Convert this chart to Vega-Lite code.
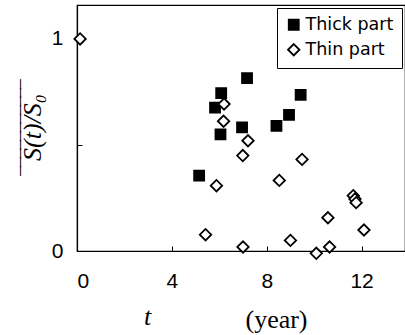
{
  "$schema": "https://vega.github.io/schema/vega-lite/v6.json",
  "autosize": {"type": "none"},
  "padding": {"left": 77, "top": 5, "right": 0, "bottom": 84},
  "width": 328,
  "height": 246,
  "background": "white",
  "config": {
    "view": {"stroke": "black", "strokeWidth": 1.2},
    "axis": {"grid": false, "domainColor": "black", "tickColor": "black", "labelColor": "black", "titleColor": "black"}
  },
  "title": {
    "text": "t",
    "orient": "bottom",
    "anchor": "start",
    "frame": "group",
    "dx": 67,
    "dy": -28,
    "offset": 0,
    "font": "Liberation Serif",
    "fontStyle": "italic",
    "fontWeight": "normal",
    "fontSize": 26,
    "color": "black"
  },
  "data": {
    "values": [
      {"t": 5.15, "s": 0.355, "series": "Thick part"},
      {"t": 5.82, "s": 0.676, "series": "Thick part"},
      {"t": 6.08, "s": 0.744, "series": "Thick part"},
      {"t": 6.05, "s": 0.55, "series": "Thick part"},
      {"t": 6.96, "s": 0.583, "series": "Thick part"},
      {"t": 7.17, "s": 0.815, "series": "Thick part"},
      {"t": 8.41, "s": 0.59, "series": "Thick part"},
      {"t": 8.94, "s": 0.642, "series": "Thick part"},
      {"t": 9.43, "s": 0.736, "series": "Thick part"},
      {"t": 0.13, "s": 1.0, "series": "Thin part"},
      {"t": 6.2, "s": 0.693, "series": "Thin part"},
      {"t": 6.18, "s": 0.612, "series": "Thin part"},
      {"t": 7.21, "s": 0.52, "series": "Thin part"},
      {"t": 6.99, "s": 0.45, "series": "Thin part"},
      {"t": 9.49, "s": 0.432, "series": "Thin part"},
      {"t": 5.88, "s": 0.308, "series": "Thin part"},
      {"t": 8.53, "s": 0.333, "series": "Thin part"},
      {"t": 5.42, "s": 0.077, "series": "Thin part"},
      {"t": 7.0, "s": 0.019, "series": "Thin part"},
      {"t": 9.0, "s": 0.05, "series": "Thin part"},
      {"t": 10.09, "s": -0.011, "series": "Thin part"},
      {"t": 10.58, "s": 0.157, "series": "Thin part"},
      {"t": 10.65, "s": 0.019, "series": "Thin part"},
      {"t": 11.65, "s": 0.261, "series": "Thin part"},
      {"t": 11.72, "s": 0.245, "series": "Thin part"},
      {"t": 11.77, "s": 0.228, "series": "Thin part"},
      {"t": 12.1, "s": 0.099, "series": "Thin part"}
    ]
  },
  "mark": {"type": "point", "filled": false, "strokeWidth": 1.8, "opacity": 1, "clip": false},
  "encoding": {
    "x": {
      "field": "t",
      "type": "quantitative",
      "scale": {"domain": [0, 13.83], "nice": false, "zero": false},
      "axis": {
        "values": [0, 4, 8, 12],
        "format": "d",
        "tickSize": -5,
        "labelPadding": 24,
        "labelFont": "Liberation Sans",
        "labelFontSize": 21,
        "title": "(year)",
        "titleFont": "Liberation Serif",
        "titleFontWeight": "normal",
        "titleFontSize": 26,
        "titleX": 199,
        "titleY": 55,
        "domainWidth": 1.2
      }
    },
    "y": {
      "field": "s",
      "type": "quantitative",
      "scale": {"domain": [0, 1.16], "nice": false, "zero": false},
      "axis": {
        "values": [0, 0.5, 1],
        "labelExpr": "datum.value == 0.5 ? '' : format(datum.value, 'd')",
        "tickSize": -5,
        "labelPadding": 19,
        "labelFont": "Liberation Sans",
        "labelFontSize": 21,
        "title": ["‾‾‾‾‾‾‾‾‾‾‾", "S(t)/S₀"],
        "titleLineHeight": 1,
        "titleFont": "Liberation Serif",
        "titleFontStyle": "italic",
        "titleFontWeight": "normal",
        "titleFontSize": 26,
        "titleY": 122,
        "titlePadding": 6,
        "domainWidth": 1.2
      }
    },
    "shape": {
      "field": "series",
      "type": "nominal",
      "scale": {"domain": ["Thick part", "Thin part"], "range": ["square", "diamond"]},
      "legend": {
        "title": null,
        "orient": "top-right",
        "offset": 3,
        "strokeColor": "black",
        "fillColor": "white",
        "padding": 8,
        "labelFont": "DejaVu Sans",
        "labelFontSize": 17.5,
        "labelColor": "black",
        "rowPadding": 6,
        "symbolStrokeColor": "black",
        "symbolStrokeWidth": 1.8,
        "labelOffset": 3
      }
    },
    "fill": {
      "field": "series",
      "type": "nominal",
      "scale": {"domain": ["Thick part", "Thin part"], "range": ["black", "white"]},
      "legend": {"title": null}
    },
    "size": {
      "field": "series",
      "type": "nominal",
      "scale": {"domain": ["Thick part", "Thin part"], "range": [100, 130]},
      "legend": {"title": null}
    },
    "stroke": {"value": "black"}
  }
}
